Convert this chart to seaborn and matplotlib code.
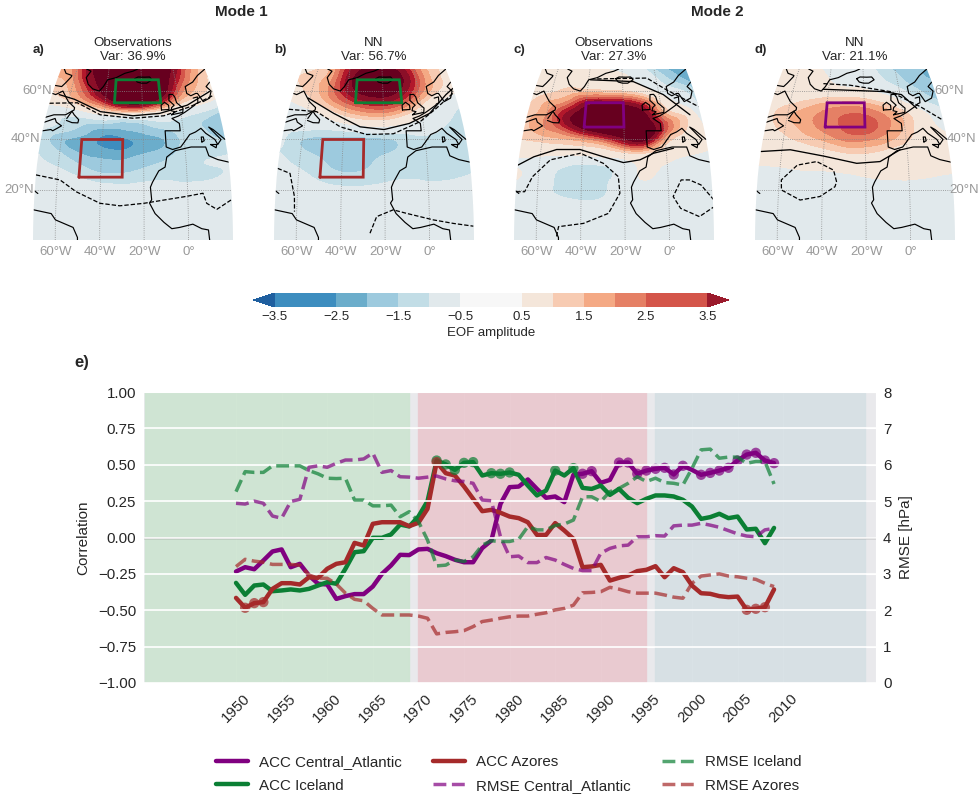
import numpy as np
import seaborn as sns
import matplotlib
matplotlib.use('Agg')
import matplotlib.pyplot as plt
import matplotlib.tri as mtri
from matplotlib.colors import ListedColormap, BoundaryNorm
from matplotlib.colorbar import ColorbarBase
from matplotlib.patches import Polygon

# time series
years = list(range(1950, 2010))
acc_central = [-.234, -.204, -.218, -.158, -.096, -.082, -.204, -.181, -.261, -.318,
               -.323, -.422, -.403, -.389, -.389, -.337, -.25, -.192, -.119, -.121,
               -.082, -.078, -.108, -.128, -.153, -.17, -.17, -.073, -.021, .231,
               .346, .35, .399, .334, .273, .282, .243, .431, .438, .456,
               .376, .396, .515, .515, .438, .46, .472, .479, .433, .493,
               .465, .431, .444, .46, .479, .529, .57, .582, .529, .511]
acc_iceland = [-.312, -.394, -.33, -.323, -.369, -.364, -.357, -.364, -.353, -.33,
               -.307, -.318, -.215, -.101, -.094, -.002, -.002, .021, .089, .076,
               .144, .25, .529, .502, .465, .513, .518, .426, .442, .438,
               .447, .431, .357, .289, .323, .46, .426, .477, .341, .334,
               .357, .293, .334, .273, .236, .266, .289, .289, .282, .259,
               .213, .128, .14, .163, .133, .144, .055, .06, -.039, .066]
acc_azores = [-.415, -.483, -.451, -.444, -.353, -.314, -.314, -.323, -.273, -.277,
              -.215, -.181, -.17, -.037, -.055, .094, .105, .105, .105, .078,
              .101, .197, .518, .442, .426, .351, .266, .181, .19, .17,
              .144, .133, .105, .018, .018, .099, .048, -.009, -.204, -.199,
              -.188, -.296, -.277, -.261, -.231, -.222, -.197, -.273, -.211, -.238,
              -.33, -.383, -.387, -.403, -.41, -.406, -.497, -.49, -.479, -.357]
rmse_central = [4.94, 4.92, 5.0, 4.94, 4.59, 4.53, 4.99, 5.05, 5.93, 5.97,
                5.93, 6.04, 6.13, 6.13, 6.16, 6.32, 5.79, 5.84, 5.67, 5.66,
                5.63, 5.66, 5.69, 5.61, 5.56, 5.54, 5.49, 5.03, 5.01, 4.02,
                3.47, 3.49, 3.31, 3.31, 3.45, 3.38, 3.26, 3.15, 3.09, 3.09,
                3.57, 3.70, 3.77, 3.79, 4.02, 4.02, 4.05, 4.04, 4.32, 4.34,
                4.34, 4.39, 4.34, 4.28, 4.19, 4.10, 4.04, 4.02, 4.21, 4.25]
rmse_iceland = [5.26, 5.81, 5.79, 5.79, 5.97, 5.97, 5.97, 5.97, 5.84, 5.75,
                5.63, 5.62, 5.63, 5.03, 5.03, 4.87, 4.87, 4.89, 4.57, 4.71,
                4.44, 3.93, 3.22, 3.24, 3.38, 3.34, 3.47, 3.79, 3.91, 3.89,
                3.89, 3.95, 4.30, 4.21, 4.21, 4.33, 4.37, 4.48, 5.12, 5.12,
                4.99, 5.26, 5.35, 5.49, 5.67, 5.54, 5.63, 5.51, 5.49, 5.44,
                5.90, 6.41, 6.43, 6.18, 6.21, 6.21, 6.04, 6.09, 6.09, 5.47]
rmse_azores = [3.20, 3.40, 3.35, 3.32, 3.26, 3.26, 3.26, 3.24, 2.97, 2.88,
               2.88, 2.72, 2.47, 2.30, 2.26, 2.05, 1.87, 1.87, 1.87, 1.87,
               1.84, 1.78, 1.35, 1.39, 1.41, 1.44, 1.55, 1.69, 1.73, 1.78,
               1.82, 1.84, 1.84, 1.89, 1.93, 2.01, 2.05, 2.14, 2.48, 2.49,
               2.51, 2.63, 2.58, 2.51, 2.47, 2.47, 2.47, 2.42, 2.36, 2.33,
               2.74, 2.94, 2.97, 3.0, 2.94, 2.92, 2.88, 2.85, 2.74, 2.65]
sig_central = [1988, 1989, 1992, 1993, 1994, 1995, 1996, 1997, 1998, 1999, 2001, 2002,
               2003, 2004, 2005, 2006, 2007, 2008, 2009]
sig_iceland = [1972, 1973, 1974, 1975, 1976, 1978, 1979, 1980, 1985, 1987]
sig_azores = [1951, 1952, 1953, 1972, 2006, 2007, 2008]

# eof fields, rows go from 70N to 0N, columns from 70W to 20E
field_lons = [-70, -60, -50, -40, -30, -20, -10, 0, 10, 20]
field_lats = [70, 65, 60, 55, 50, 45, 40, 35, 30, 25, 20, 10, 0]
field_a = [[1.7, 2.4, 4.2, 4.8, 5.3, 5.3, 5.0, 4.0, 2.1, 1.2],
           [1.4, 2.0, 3.8, 4.8, 5.5, 5.5, 5.1, 3.4, 1.8, 0.9],
           [1.0, 1.6, 3.0, 4.7, 5.5, 5.5, 5.0, 2.6, 1.4, 0.7],
           [0.2, 0.7, 1.7, 3.0, 4.4, 4.4, 3.0, 1.2, 0.3, -0.5],
           [-0.7, -0.9, -0.6, 0.0, 0.1, 0.1, -0.1, -0.7, -1.2, -1.7],
           [-0.9, -1.2, -1.6, -1.9, -1.9, -1.7, -1.4, -1.3, -1.5, -1.7],
           [-1.1, -1.9, -2.2, -2.6, -2.6, -2.3, -2.0, -1.4, -1.4, -1.5],
           [-1.0, -1.5, -2.1, -2.3, -2.4, -2.1, -1.8, -1.3, -1.2, -1.1],
           [-0.8, -1.1, -1.5, -1.8, -1.8, -1.6, -1.4, -1.2, -1.0, -0.9],
           [-0.5, -0.6, -1.0, -1.3, -1.35, -1.2, -1.1, -1.2, -1.1, -0.85],
           [-0.4, -0.5, -0.6, -0.7, -0.75, -0.7, -0.65, -0.6, -0.5, -0.4],
           [-0.5, -0.5, -0.5, -0.5, -0.5, -0.5, -0.5, -0.5, -0.5, -0.5],
           [-0.5, -0.5, -0.5, -0.5, -0.5, -0.5, -0.5, -0.5, -0.5, -0.5]]
field_b = [[0.8, 1.0, 1.8, 3.4, 4.3, 4.6, 4.0, 2.5, 1.3, 0.8],
           [1.0, 1.3, 2.0, 3.8, 4.9, 5.0, 4.5, 2.8, 1.4, 0.7],
           [0.7, 1.2, 2.1, 3.6, 4.6, 4.8, 4.0, 2.4, 1.1, 0.2],
           [-0.2, 0.6, 1.5, 2.5, 3.2, 3.4, 2.7, 1.3, -0.1, -0.8],
           [-0.8, -0.5, 0.2, 1.1, 1.6, 1.7, 1.1, 0.2, -0.7, -1.1],
           [-0.8, -0.8, -0.8, -0.5, -0.2, -0.1, -0.4, -0.6, -1.0, -1.1],
           [-0.9, -1.5, -1.7, -1.7, -1.7, -1.6, -1.3, -1.1, -1.1, -1.15],
           [-1.0, -1.35, -1.7, -1.8, -1.8, -1.6, -1.3, -1.1, -1.1, -1.1],
           [-0.7, -1.1, -1.4, -1.7, -1.6, -1.35, -1.2, -1.1, -1.15, -1.1],
           [-0.5, -0.7, -1.15, -1.3, -1.3, -1.15, -1.05, -1.1, -1.1, -0.9],
           [-0.4, -0.5, -0.7, -0.9, -0.9, -0.8, -0.7, -0.7, -0.6, -0.5],
           [-0.5, -0.5, -0.5, -0.5, -0.5, -0.5, -0.5, -0.5, -0.5, -0.5],
           [-0.5, -0.5, -0.5, -0.5, -0.5, -0.5, -0.5, -0.5, -0.5, -0.5]]
field_c = [[0.3, 0.3, 0.5, 0.2, 0.0, -0.2, -0.6, -1.5, -2.1, -2.5],
           [0.4, 0.5, 0.7, 0.5, 0.3, 0.2, -0.2, -0.9, -1.6, -2.2],
           [0.6, 0.9, 1.2, 1.2, 1.1, 1.0, 0.6, -0.2, -0.8, -1.3],
           [1.0, 1.6, 2.2, 3.6, 3.9, 3.7, 2.8, 1.0, -0.1, -1.0],
           [1.3, 2.0, 3.6, 5.0, 5.5, 5.4, 4.6, 2.0, 1.0, -0.4],
           [1.3, 2.0, 3.0, 4.6, 5.4, 5.6, 5.4, 3.0, 1.2, 0.1],
           [1.0, 1.2, 1.4, 1.8, 2.6, 4.0, 4.4, 1.6, 0.7, 0.3],
           [0.3, 0.3, 0.3, 0.4, 0.6, 1.1, 1.2, 0.6, 0.2, -0.1],
           [-0.1, -0.4, -0.8, -1.05, -0.9, -0.4, 0.2, -0.1, -0.4, -0.6],
           [0.1, -0.5, -1.15, -1.3, -1.15, -0.6, 0.1, -0.5, -0.5, -0.5],
           [-0.5, -0.8, -1.1, -1.25, -1.1, -0.6, -0.4, -0.5, -0.5, -0.5],
           [-0.5, -0.5, -0.5, -0.5, -0.5, -0.5, -0.5, -0.5, -0.5, -0.5],
           [-0.5, -0.5, -0.5, -0.5, -0.5, -0.5, -0.5, -0.5, -0.5, -0.5]]
field_d = [[0.3, 0.3, 0.2, -0.3, -0.5, -0.8, -1.1, -1.6, -1.9, -2.0],
           [0.4, 0.4, 0.4, 0.0, -0.3, -0.5, -0.9, -1.3, -1.8, -2.0],
           [0.5, 0.5, 0.5, 0.4, 0.3, 0.2, -0.3, -0.8, -1.4, -1.9],
           [0.6, 0.9, 1.2, 1.5, 1.6, 1.5, 1.0, 0.2, -0.7, -1.3],
           [0.8, 1.4, 1.8, 2.2, 2.5, 2.5, 2.0, 1.3, 0.3, -0.7],
           [0.8, 1.2, 1.7, 2.2, 2.6, 2.8, 2.2, 1.4, 0.5, -0.2],
           [0.4, 0.8, 1.2, 1.6, 2.1, 2.1, 1.7, 1.1, 0.5, 0.2],
           [0.3, 0.4, 0.5, 0.8, 1.05, 1.1, 0.8, 0.5, 0.3, 0.2],
           [0.05, 0.1, 0.2, 0.3, 0.4, 0.4, 0.4, 0.3, 0.2, 0.1],
           [-0.4, -0.4, -0.3, -0.3, -0.2, 0.0, 0.1, 0.1, 0.0, -0.1],
           [-0.5, -0.5, -0.5, -0.5, -0.5, -0.5, -0.4, -0.4, -0.5, -0.5],
           [-0.5, -0.5, -0.5, -0.5, -0.5, -0.5, -0.5, -0.5, -0.5, -0.5],
           [-0.5, -0.5, -0.5, -0.5, -0.5, -0.5, -0.5, -0.5, -0.5, -0.5]]

# black contour lines as (lons, lats)
solid_a = [([-66, -57, -42, -25, -11, 4, 18], [58.5, 56.5, 51.3, 49.6, 50.6, 54, 59.8])]
dashed_a = [([-70, -55, -42, -25, -9, 5.5, 19], [54.8, 55, 50, 48.6, 49.6, 53.4, 58]),
            ([-70, -58.7, -51, -40, -31, -20, -13, -1, 7, 8.5, 13, 19.6],
             [25.9, 23.9, 19.2, 14.6, 13.6, 14.6, 15.6, 17.3, 18.6, 14.6, 12.2, 15.9])]
solid_b = [([-61, -46, -32, -20, -7, 4, 15, 20], [57, 50.6, 45.1, 44, 46.5, 50.6, 58.5, 61.2])]
dashed_b = [([-70, -55, -42, -28.6, -15.4, -1.5, 8, 19], [52.3, 51.3, 45.1, 42, 42.3, 47.2, 52.7, 59]),
            ([-70, -64, -61.3, -61], [28.5, 26.5, 17.3, 11.3]),
            ([-26.8, -23.8, -16.3, -10.3, 1.8, 10.8, 19.8], [2.7, 9.3, 12, 10.6, 8, 6.6, 5.5])]
solid_c = [([-70, -63, -52.5, -41.3, -30, -20.6, -12.7, -6.2, 3.6],
            [29.8, 33.1, 36, 36, 33.1, 30.8, 31.9, 34.5, 36.5]),
           ([-39, -13.7, 2.4, 14.4], [65, 64.2, 58.5, 50])]
dashed_c = [([-35, -5.4, 4.8, 20], [65.4, 65.8, 60.5, 53.4]),
            ([-69.7, -65.9, -62.7, -55, -41, -30, -23, -22.3, -27.5, -38.8, -50, -51],
             [19.2, 19.2, 25.2, 31.9, 34.5, 30.5, 25.2, 18.6, 10.6, 6.6, 5.3, 0.7]),
            ([20.5, 15, 9.8, 6, 2, 5.2, 13.6, 20], [15.9, 21.9, 23.9, 23.9, 17.3, 12.6, 9.3, 13])]
solid_d = [([-70, -56, -40, -24.2, -13.2, -3.4], [35.2, 35.9, 33.4, 30.5, 31.2, 35.9]),
           ([-43, -9, 0.8, 7.7], [60.8, 59.8, 58.5, 52.7])]
dashed_d = [([-43.4, -27.9, -5.3, 9.7, 20], [63.3, 62.6, 59.8, 53.4, 47.8]),
            ([-33.5, -35, -43, -52, -59, -58.7, -50, -41, -34.2, -33.5],
             [23.2, 27.8, 31.2, 29.8, 23.9, 19.9, 15.9, 17.3, 21.2, 23.2])]

# simplified coasts as (lons, lats)
coasts = [
    ([-70, -62, -60, -52, -50, -50], [12, 10.5, 8, 5, 1, 0]),
    ([-70, -68.5], [19.5, 18.5]),
    ([-70, -66, -65, -61, -64, -65, -70], [43.5, 44, 43.5, 45.5, 47, 48.5, 47]),
    ([-70, -66, -60, -56, -56, -60, -62, -64.5, -68, -70],
     [49, 50, 50, 52, 53, 55.5, 57.5, 60, 58.5, 59]),
    ([-59, -56, -53, -52.8, -55.5, -57, -59], [47.7, 46.8, 46.7, 48, 50, 51.5, 48.5]),
    ([-70, -66, -64.5, -62, -62, -66, -68], [62.5, 62, 63.5, 66.5, 67, 68, 70]),
    ([-54, -51, -53, -51, -48, -44, -42, -40, -35, -30, -25, -22],
     [70, 69, 66, 63, 61, 60, 62, 65, 66, 68, 69, 70]),
    ([-24, -22, -18, -15, -13.7, -17, -20, -22.5, -24],
     [65.5, 66.3, 66.2, 66.3, 65, 63.5, 63.5, 64, 65.5]),
    ([-5, 1, 1.5, -1.5, -2, -3, -5, -5.5, -3, -4.5, -5, -3, -5],
     [50, 51, 52.8, 55, 57.5, 58.6, 58.5, 56, 54, 53, 51.7, 51.3, 50]),
    ([-10, -6, -6, -8, -10, -10], [52, 52.2, 54, 55.2, 54, 52]),
    ([20, 14, 10, 5, 5, 7, 10, 11, 13, 17, 19, 17, 20],
     [70, 67, 64, 62, 59, 58, 59, 59, 55.5, 57, 60, 62, 64]),
    ([8, 10.5, 10, 8.5, 8, 4, 2, -1.5, -5, -1.5, -1.5, -9, -9, -6, -2, 0, 3, 6, 9, 11, 15, 16, 18, 16, 13, 15, 20],
     [57, 57.5, 55, 54.5, 54, 52, 51, 49.5, 48.5, 46.5, 43.5, 43.5, 37, 36, 37, 39, 42, 43, 44.5, 42.5, 40, 38, 40, 42, 45, 44, 40]),
    ([8.5, 9.7, 9.5, 8.5, 8.5], [39, 39.5, 41, 41, 39]),
    ([12.5, 15.5, 15, 12.5], [38, 38, 36.7, 38]),
    ([20, 15, 11, 10, 3, -5, -9, -10, -13, -16, -17, -16.5, -17.5, -15, -11, -7.5, -4, 2, 6, 9, 9.5],
     [31, 32, 33.5, 37, 37, 35.5, 33, 29, 27.5, 23, 21, 16, 14.7, 10.5, 7, 4.5, 5, 6.3, 4.5, 4, 0]),
]

# regions of the index boxes (lon0, lon1, lat0, lat1)
box_azores = (-50, -30, 25, 40)
box_iceland = (-35, -10, 55, 65)
box_central = (-40, -20, 45, 55)

# robinson tables, every 5 degrees
rob_lat = np.arange(0, 75, 5)
rob_x = [1, .9986, .9954, .99, .9822, .973, .96, .9427, .9216, .8962, .8679, .835, .7986, .7597, .7186]
rob_y = [0, .062, .124, .186, .248, .31, .372, .434, .4958, .5571, .6176, .6769, .7346, .7903, .8435]

map_levels = [-3.5, -2.5, -2, -1.5, -1, 0, 1, 1.5, 2, 2.5, 3, 3.5, 4.2, 7]
map_colors = ['#3d8dbf', '#6badcb', '#9dcade', '#c2dde6', '#e1e9ec', '#f4e6da', '#f7cbb2',
              '#f4a984', '#e58065', '#d4554a', '#b2182b', '#8b0f28', '#67001f']
bar_levels = [-3.5, -2.5, -2, -1.5, -1, -.5, .5, 1, 1.5, 2, 2.5, 3.5]
bar_colors = ['#3d8dbf', '#6badcb', '#9dcade', '#c2dde6', '#e1e9ec', '#f7f7f7', '#f4e6da',
              '#f7cbb2', '#f4a984', '#e58065', '#d4554a']

GREEN = '#0b7f34'
RED = '#a52a2a'
PURPLE = '#800080'


def proj(lon, lat):
    lon, lat = np.asarray(lon, float), np.asarray(lat, float)
    return np.interp(lat, rob_lat, rob_x) * (lon + 25), np.interp(lat, rob_lat, rob_y) * 91.2


def px_axes(x0, x1, y0, y1):
    return fig.add_axes([x0 / 979, 1 - y1 / 795, (x1 - x0) / 979, (y1 - y0) / 795])


sns.set_style('darkgrid')
plt.rcParams['font.family'] = ['Liberation Sans', 'DejaVu Sans']

fig = plt.figure(figsize=(9.79, 7.95), dpi=100)


def draw_map(x0, field, solid, dashed, boxes, title, tag, lat_side=None):
    ax = px_axes(x0, x0 + 200, 69, 240)
    ax.set_xlim(-45, 45)
    ax.set_ylim(0, .8435 * 91.2)
    ax.axis('off')

    # outline of the map, used to clip everything
    lat_edge = np.linspace(0, 70, 71)
    ex0, ey0 = proj(np.full(71, -70.), lat_edge)
    ex1, ey1 = proj(np.full(71, 20.), lat_edge)
    edge = Polygon(np.r_[np.c_[ex0, ey0], np.c_[ex1, ey1][::-1]], closed=True, transform=ax.transData,
                   fc='none', ec='none')
    ax.add_patch(edge)

    lon2d, lat2d = np.meshgrid(field_lons, field_lats)
    gx, gy = proj(lon2d.ravel(), lat2d.ravel())
    tri = mtri.Triangulation(gx, gy)
    refiner = mtri.UniformTriRefiner(tri)
    tri2, z2 = refiner.refine_field(np.array(field).ravel(), subdiv=3)
    cs = ax.tricontourf(tri2, z2, levels=map_levels, colors=map_colors, extend='neither')
    cs.set_clip_path(edge)

    lines = []
    for lon in [-60, -40, -20, 0]:
        gx_, gy_ = proj(np.full(71, float(lon)), lat_edge)
        lines += ax.plot(gx_, gy_, color='#888888', lw=.6, ls=':')
        ax.text(gx_[0], -5.4, f'{abs(lon)}°W' if lon else '0°', color='#999999', fontsize=9.5,
                ha='center', va='center')
    for lat in [20, 40, 60]:
        gx_, gy_ = proj([-70, 20], [lat, lat])
        lines += ax.plot(gx_, gy_, color='#888888', lw=.6, ls=':')
        if lat_side == 'left':
            ax.text(gx_[0] - .3, gy_[0], f'{lat}°N', color='#999999', fontsize=9.5, ha='right', va='center')
        if lat_side == 'right':
            # the lowest label would run over the edge of the figure
            shift = -1.6 if lat == 20 else -.2
            ax.text(gx_[1] + shift, gy_[1], f'{lat}°N', color='#999999', fontsize=9.5, ha='left', va='center')

    for lons, lats in coasts:
        cx, cy = proj(lons, lats)
        lines += ax.plot(cx, cy, color='black', lw=.85)
    for lons, lats in solid:
        cx, cy = proj(lons, lats)
        lines += ax.plot(cx, cy, color='black', lw=.95)
    for lons, lats in dashed:
        cx, cy = proj(lons, lats)
        lines += ax.plot(cx, cy, color='black', lw=.9, ls='--', dashes=(3.5, 1.6))
    for ln in lines:
        ln.set_clip_path(edge)

    for (lon0, lon1, lat0, lat1), box_color in boxes:
        bx, by = proj([lon0, lon1, lon1, lon0, lon0], [lat0, lat0, lat1, lat1, lat0])
        ax.plot(bx, by, color=box_color, lw=2, solid_joinstyle='miter')

    ax.text(0, 85.5, title, ha='center', va='center', fontsize=9.6, color='.15', linespacing=1.2)
    ax.text(-45, 85.6, tag, ha='left', va='center', fontsize=9.5, color='.15', fontweight='bold')


boxes_1 = [(box_azores, RED), (box_iceland, GREEN)]
boxes_2 = [(box_central, PURPLE)]
draw_map(33, field_a, solid_a, dashed_a, boxes_1, 'Observations\nVar: 36.9%', 'a)', 'left')
draw_map(274, field_b, solid_b, dashed_b, boxes_1, 'NN\nVar: 56.7%', 'b)')
draw_map(514, field_c, solid_c, dashed_c, boxes_2, 'Observations\nVar: 27.3%', 'c)')
draw_map(755, field_d, solid_d, dashed_d, boxes_2, 'NN\nVar: 21.1%', 'd)', 'right')

fig.text(241 / 979, 1 - 12 / 795, 'Mode 1', ha='center', va='center', fontsize=11, fontweight='bold', color='.15')
fig.text(717 / 979, 1 - 12 / 795, 'Mode 2', ha='center', va='center', fontsize=11, fontweight='bold', color='.15')
fig.text(82 / 979, 1 - 363 / 795, 'e)', ha='center', va='center', fontsize=12, fontweight='bold', color='.15')

# colorbar
cax = px_axes(253, 729, 293, 307)
cmap = ListedColormap(bar_colors)
cmap.set_under('#1f5f9f')
cmap.set_over('#9b1a2c')
cb = ColorbarBase(cax, cmap=cmap, norm=BoundaryNorm(bar_levels, cmap.N), orientation='horizontal',
                  extend='both', spacing='proportional', ticks=[-3.5, -2.5, -1.5, -.5, .5, 1.5, 2.5, 3.5],
                  extendfrac=.05, drawedges=False)
cb.outline.set_visible(False)
cb.minorticks_off()
cax.tick_params(labelsize=9.5, length=0, pad=3, labelcolor='.15')
cb.set_label('EOF amplitude', fontsize=9.5, color='.15', labelpad=3)

# bottom panel
ax1 = px_axes(143, 876, 392, 683)
ax1.set_facecolor('#e9e9ec')
ax1.axvspan(1940, 1969, color='#cde4d1', alpha=.92, zorder=1)
ax1.axvspan(1970, 1995, color='#e9c8ce', alpha=.92, zorder=1)
ax1.axvspan(1996, 2019, color='#d6e0e4', alpha=.92, zorder=1)
ax1.axhline(0, color='grey', lw=1, zorder=1.5)

sns.lineplot(x=years, y=acc_central, ax=ax1, color=PURPLE, lw=3.2, label='ACC Central_Atlantic', zorder=3)
sns.lineplot(x=years, y=acc_iceland, ax=ax1, color=GREEN, lw=3.2, label='ACC Iceland', zorder=3)
sns.lineplot(x=years, y=acc_azores, ax=ax1, color=RED, lw=3.2, label='ACC Azores', zorder=3)
for sig, series, col in [(sig_central, acc_central, PURPLE), (sig_iceland, acc_iceland, GREEN),
                         (sig_azores, acc_azores, RED)]:
    sns.scatterplot(x=sig, y=[series[y - 1950] for y in sig], ax=ax1, color=col, s=55, alpha=.7,
                    edgecolor='none', zorder=3)

ax1.set_xlim(1939.8, 2020.18)
ax1.set_ylim(-1, 1)
ax1.set_yticks(np.arange(-1, 1.01, .25))
ax1.set_xticks(range(1950, 2011, 5))
ax1.set_xticklabels(range(1950, 2011, 5), rotation=45, fontsize=10.8, color='.15')
ax1.tick_params(axis='both', length=0)
ax1.tick_params(axis='y', labelsize=10.8, labelcolor='.15', pad=5)
ax1.tick_params(axis='x', pad=6)
ax1.set_ylabel('Correlation', fontsize=11, color='.15')
ax1.yaxis.set_label_coords((90 - 143) / 733, .5)

ax2 = ax1.twinx()
sns.lineplot(x=years, y=rmse_central, ax=ax2, color=PURPLE, lw=2.5, alpha=.7, ls='--', label='RMSE Central_Atlantic')
sns.lineplot(x=years, y=rmse_iceland, ax=ax2, color=GREEN, lw=2.5, alpha=.7, ls='--', label='RMSE Iceland')
sns.lineplot(x=years, y=rmse_azores, ax=ax2, color=RED, lw=2.5, alpha=.7, ls='--', label='RMSE Azores')
ax2.set_ylim(0, 8)
ax2.set_yticks(range(0, 9))
ax2.grid(True, axis='y', color='white', lw=1.2, zorder=0)
ax2.set_axisbelow(True)
ax2.tick_params(axis='y', length=0, labelsize=10.8, labelcolor='.15', pad=5)
ax2.set_ylabel('RMSE [hPa]', fontsize=11, color='.15')
ax2.yaxis.set_label_coords((899 - 143) / 733, .5)
for s in ax2.spines.values():
    s.set_visible(False)

h1, l1 = ax1.get_legend_handles_labels()
h2, l2 = ax2.get_legend_handles_labels()
ax1.get_legend().remove()
ax2.get_legend().remove()
order = ['ACC Central_Atlantic', 'ACC Iceland', 'ACC Azores', 'RMSE Central_Atlantic', 'RMSE Iceland', 'RMSE Azores']
by_label = dict(zip(l1 + l2, h1 + h2))
fig.legend([by_label[k] for k in order], order, ncol=3, frameon=False, fontsize=10.9,
           loc='center', bbox_to_anchor=(509 / 979, 1 - 774 / 795), columnspacing=2.05,
           handlelength=2.1, handletextpad=.75, labelspacing=.6, labelcolor='.15')

fig.savefig('out.png', dpi=100)
